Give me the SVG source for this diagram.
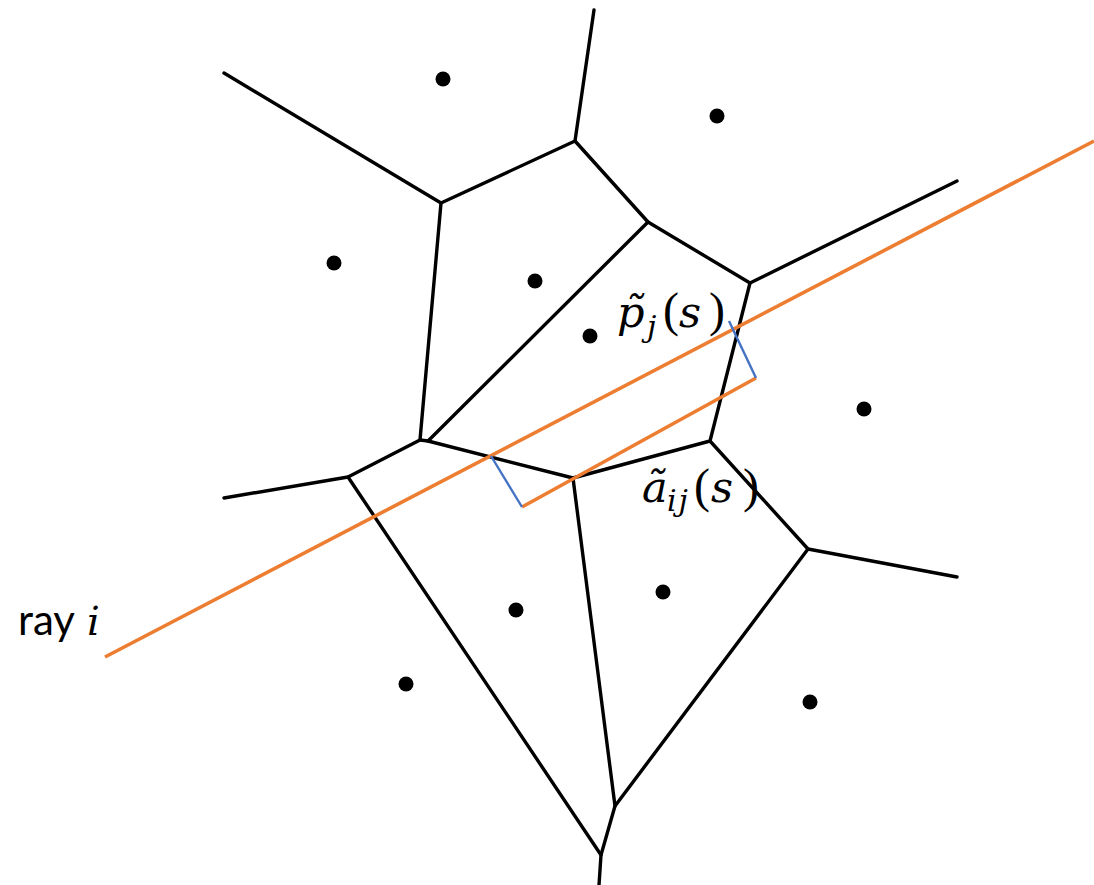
<svg xmlns="http://www.w3.org/2000/svg" width="1094" height="885" viewBox="0 0 1094 885">
<style>
.e{stroke:#000;stroke-width:3.4;fill:none;stroke-linejoin:round;stroke-linecap:round}
.o{stroke:#ED7D31;stroke-width:3.6;fill:none;stroke-linecap:butt}
.b{stroke:#4472C4;stroke-width:2.4;fill:none}
.d{fill:#000}
.m{font-family:"DejaVu Serif","Liberation Serif",serif;font-style:italic;fill:#000}
.s{font-family:"Liberation Serif",serif;fill:#000}
.t{font-family:Lato,"Liberation Sans",sans-serif;fill:#000}
</style>
<rect width="1094" height="885" fill="#fff"/>
<g id="connectors">
<g id="voronoi-edges">
<path class="e" d="M594,10 L575,141 L441,203 L224,73"/>
<path class="e" d="M575,141 L648,222 L750,283 L957,181"/>
<path class="e" d="M648,222 L428,441"/>
<path class="e" d="M441,203 L420,440 L348,477 L224,498"/>
<path class="e" d="M420,440 L428,441 L573,478 L710,441 L750,283"/>
<path class="e" d="M710,441 L808,549 L957,577"/>
<path class="e" d="M808,549 L615,806 L601,855 L599,885"/>
<path class="e" d="M573,478 L615,806"/>
<path class="e" d="M348,477 L601,855"/>
</g>
<g id="rays">
<path class="o" d="M105,657 L1094,141"/>
<path class="o" d="M522,507 L756,378"/>
<path class="b" d="M491,456 L522,507"/>
<path class="b" d="M729,321 L756,378"/>
</g>
</g>
<g id="sites">
<circle class="d" cx="443" cy="79" r="7.5"/>
<circle class="d" cx="717" cy="116" r="7.5"/>
<circle class="d" cx="334" cy="263" r="7.5"/>
<circle class="d" cx="535" cy="281" r="7.5"/>
<circle class="d" cx="590" cy="336" r="7.5"/>
<circle class="d" cx="864" cy="409" r="7.5"/>
<circle class="d" cx="516" cy="610" r="7.5"/>
<circle class="d" cx="663" cy="592" r="7.5"/>
<circle class="d" cx="406" cy="684" r="7.5"/>
<circle class="d" cx="810" cy="702" r="7.5"/>
</g>
<g id="label-p">
<text class="m" x="617" y="327" font-size="43">p̃</text>
<text class="m" x="647" y="337" font-size="30">j</text>
<text class="s" x="663" y="326" font-size="48">(</text>
<text class="m" x="679" y="327" font-size="43">s</text>
<text class="s" x="709" y="326" font-size="48">)</text>
</g>
<g id="label-a">
<text class="m" x="642" y="502" font-size="43">ã</text>
<text class="m" x="667" y="511" font-size="30" letter-spacing="2">ij</text>
<text class="s" x="694" y="502" font-size="48">(</text>
<text class="m" x="711" y="502" font-size="43">s</text>
<text class="s" x="743" y="502" font-size="48">)</text>
</g>
<g id="label-ray">
<text class="t" x="18" y="635" font-size="42">ray</text>
<text class="m" x="87" y="635" font-size="40">i</text>
</g>
</svg>
